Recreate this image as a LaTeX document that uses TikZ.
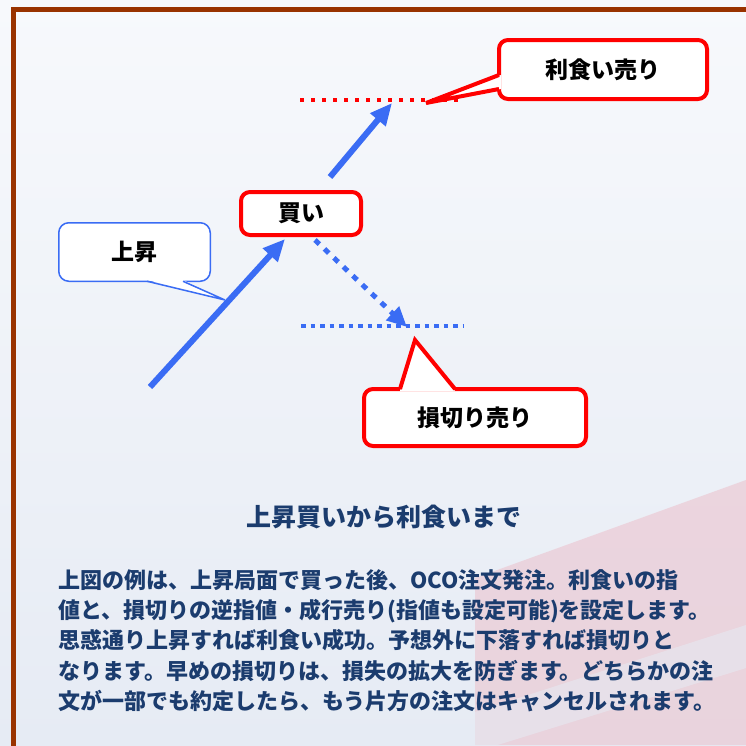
\documentclass[tikz,border=0pt]{standalone}
\usepackage{fontspec}
\setmainfont{Noto Sans CJK JP}
\usetikzlibrary{arrows.meta,calc}
\definecolor{framebrown}{HTML}{993300}
\definecolor{navy}{HTML}{1B3C6E}
\definecolor{arrowblue}{HTML}{3A6CF4}
\definecolor{bgtop}{HTML}{F7F9FC}
\definecolor{bgbot}{HTML}{E6EBF4}
\definecolor{wmpink}{HTML}{EBCCD6}

\begin{document}
\begin{tikzpicture}[x=1pt,y=-1pt,
    redbox/.style={draw=red,line width=4pt,fill=white,rounded corners=9pt,
      font=\fontsize{23}{23}\selectfont\bfseries},
    bluebox/.style={draw=arrowblue,line width=1.5pt,fill=white,rounded corners=10pt,
      font=\fontsize{23}{23}\selectfont\bfseries},
    move/.style={arrowblue,line width=6pt,-{Triangle[length=22pt,width=19pt]}},
    fall/.style={arrowblue,line width=5pt,dash pattern=on 6pt off 7pt,-{Triangle[length=20pt,width=18pt]}},
    level/.style={line width=4pt,dash pattern=on 4.5pt off 5pt}]
  \useasboundingbox (0,0) rectangle (746,745);
  \clip (0,0) rectangle (746,745);
  \shade[top color=bgtop,bottom color=bgbot] (0,0) rectangle (746,745);
  \fill[wmpink,opacity=0.75] (475,745) -- (475,578) -- (746,480) -- (746,745) -- cycle;
  \fill[bgbot,opacity=0.55] (475,712) -- (746,625) -- (746,668) -- (475,752) -- cycle;
  \draw[framebrown,line width=5pt] (13.5,800) -- (13.5,9.5) -- (800,9.5);

  % price levels
  \draw[level,red,dash pattern=on 4pt off 7pt] (300,100) -- (462,100);
  \draw[level,arrowblue] (301,326) -- (464,326);

  \node[redbox,minimum width=120pt,minimum height=43pt] (buy) at (301,213.5) {買い};
  \node[redbox,minimum width=208pt,minimum height=59pt] (tp) at (603,69.5) {利食い売り};
  \node[redbox,minimum width=222pt,minimum height=57pt] (sl) at (475,417.5) {損切り売り};
  \node[bluebox,minimum width=151.5pt,minimum height=58.5pt] (rise) at (134.5,252) {上昇};

  \coordinate (start) at (150,387);
  \coordinate (up) at (330,177);
  \coordinate (uptip) at (392,103);
  \coordinate (downtip) at (407,327);
  \draw[move] (start) -- ($(buy.south)+(-16,2)$);
  \draw[move] (up) -- (uptip);
  \draw[fall] ($(buy.south)+(14,3)$) -- (downtip);

  % callout pointers
  \coordinate (tptip) at (426,103);
  \fill[white] ($(tp.west)+(4,5.5)$) -- (tptip) -- ($(tp.west)+(4,19.5)$) -- cycle;
  \draw[red,line width=4pt] ($(tp.west)+(2,5.5)$) -- (tptip) -- ($(tp.west)+(2,19.5)$);
  \coordinate (sltip) at (415,340);
  \fill[white] ($(sl.north)+(-75,4)$) -- (sltip) -- ($(sl.north)+(-20,4)$) -- cycle;
  \draw[red,line width=4pt] ($(sl.north)+(-75,2)$) -- (sltip) -- ($(sl.north)+(-20,2)$);
  \coordinate (risetip) at (225,300);
  \fill[white] ($(rise.south)+(12.5,-2)$) -- (risetip) -- ($(rise.south)+(48.5,-2)$) -- cycle;
  \draw[arrowblue,line width=1.5pt] ($(rise.south)+(12.5,-0.75)$) -- (risetip) -- ($(rise.south)+(48.5,-0.75)$);

  \node[text=navy,font=\fontsize{25}{25}\selectfont\bfseries] (title) at (384,517) {上昇買いから利食いまで};
  \node[anchor=north west,align=left,inner sep=0pt,text=navy,
    font=\fontsize{22}{30.3}\selectfont\bfseries] (body) at (58,569)
    {上図の例は、上昇局面で買った後、OCO注文発注。利食いの指\\
     値と、損切りの逆指値・成行売り(指値も設定可能)を設定します。\\
     思惑通り上昇すれば利食い成功。予想外に下落すれば損切りと\\
     なります。早めの損切りは、損失の拡大を防ぎます。どちらかの注\\
     文が一部でも約定したら、もう片方の注文はキャンセルされます。};
\end{tikzpicture}
\end{document}
